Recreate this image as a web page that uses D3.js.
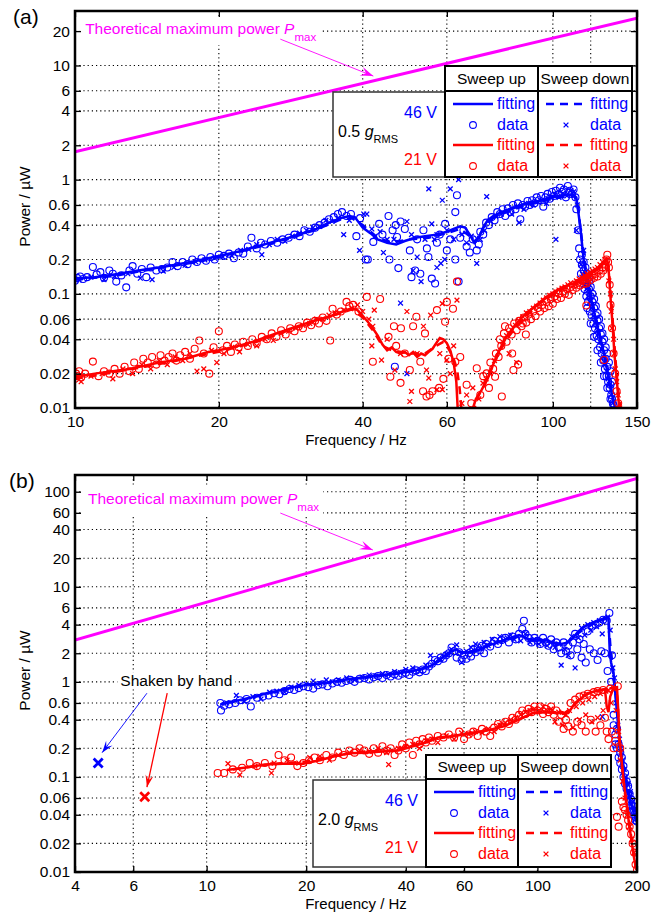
<!DOCTYPE html>
<html>
<head>
<meta charset="utf-8">
<script src="https://cdn.jsdelivr.net/npm/d3@7"></script>
<style>
  body { margin: 0; background: #fff; }
  svg { font-family: "Liberation Sans", Arial, sans-serif; }
</style>
</head>
<body>
<svg id="chart" width="664" height="914"></svg>
<script>
const svg = d3.select("#chart");

const BLUE = "#0000ff";
const RED = "#ff0000";
const MAGENTA = "#ff00ff";

// ---------- PANEL (a) DATA : [frequency Hz, power uW] ----------
const aXTicks = [10, 20, 40, 60, 100, 150];
const aXGrid = [20, 40, 60, 100, 120];
const aYTicks = [0.01, 0.02, 0.04, 0.06, 0.1, 0.2, 0.4, 0.6, 1, 2, 4, 6, 10, 20];
const aPmax = [[10, 1.75], [150, 26]];

const aBlueUpFit = [[10,0.137],[11,0.14],[12,0.147],[13,0.155],[14,0.163],[15,0.17],[16,0.178],[17,0.186],[18,0.195],[19,0.205],[20,0.215],[22,0.235],[24,0.26],[26,0.285],[28,0.31],[30,0.34],[32,0.37],[34,0.42],[36,0.46],[37.5,0.48],[38.5,0.47],[40,0.38],[41.5,0.34],[43,0.3],[45,0.28],[47,0.27],[49,0.29],[51.5,0.31],[54,0.32],[57,0.33],[60,0.35],[62,0.37],[64,0.39],[65.5,0.38],[67,0.33],[68.5,0.28],[70,0.31],[71.5,0.38],[73,0.44],[75,0.48],[78,0.52],[82,0.56],[86,0.6],[90,0.63],[95,0.66],[100,0.7],[105,0.73],[110,0.74],[112,0.7],[114,0.4],[116,0.2],[118,0.13],[121,0.08],[124,0.052],[127,0.034],[130,0.021],[133,0.013],[135,0.01]];
const aBlueDownFit = [[10,0.133],[12,0.143],[14,0.16],[16,0.175],[18,0.19],[20,0.21],[24,0.255],[28,0.305],[32,0.365],[36,0.45],[38,0.46],[40,0.4],[43,0.31],[46,0.28],[50,0.3],[55,0.31],[60,0.34],[64,0.37],[67,0.32],[69,0.29],[72,0.4],[75,0.46],[80,0.52],[86,0.58],[92,0.63],[100,0.68],[106,0.71],[111,0.72],[113,0.55],[115,0.3],[117,0.17],[120,0.1],[123,0.062],[126,0.04],[129,0.025],[132,0.015],[134,0.011]];
const aBlueUpData = [[10,0.13],[10.1,0.138],[10.25,0.142],[10.4,0.135],[10.6,0.14],[10.9,0.172],[11.1,0.148],[11.3,0.155],[11.5,0.138],[11.8,0.16],[12,0.15],[12.2,0.128],[12.5,0.145],[12.8,0.114],[13,0.16],[13.2,0.175],[13.5,0.15],[13.8,0.165],[14.1,0.14],[14.4,0.17],[14.8,0.16],[15.2,0.165],[15.6,0.17],[16,0.19],[16.4,0.175],[16.8,0.19],[17.2,0.182],[17.6,0.2],[18,0.19],[18.4,0.205],[18.8,0.195],[19.2,0.21],[19.6,0.2],[20,0.22],[20.5,0.215],[21,0.225],[21.5,0.205],[22,0.23],[22.5,0.225],[23,0.26],[23.4,0.31],[24,0.25],[24.5,0.28],[25,0.27],[25.7,0.29],[26.5,0.28],[27.2,0.3],[28,0.31],[28.8,0.33],[29.5,0.32],[30.2,0.36],[31,0.35],[31.8,0.38],[32.5,0.4],[33.3,0.42],[34,0.45],[34.8,0.47],[35.5,0.5],[36.2,0.52],[37,0.48],[37.8,0.5],[38.8,0.32],[39.5,0.46],[40.6,0.2],[41,0.2],[42.1,0.285],[43.3,0.41],[44,0.33],[45.3,0.48],[45.5,0.2],[46.2,0.36],[46.9,0.4],[47.2,0.315],[47.5,0.168],[48,0.43],[49,0.37],[50.2,0.24],[50.6,0.14],[51.5,0.16],[52,0.3],[52.8,0.15],[53.6,0.36],[54.5,0.25],[54.9,0.21],[55.8,0.136],[56.7,0.123],[57.2,0.28],[58,0.33],[59.5,0.41],[60,0.24],[61,0.3],[62.5,0.2],[62.5,0.52],[63,0.73],[63.5,0.128],[64,0.31],[65,0.36],[66,0.26],[67,0.23],[68,0.3],[69.3,0.24],[70,0.27],[70.5,0.35],[71.5,0.33],[72.5,0.42],[73.5,0.4],[74.5,0.47],[75.5,0.44],[76.5,0.52],[77.5,0.5],[78.5,0.55],[79.5,0.48],[80.5,0.56],[81.5,0.52],[82.5,0.6],[83.5,0.55],[84.5,0.62],[85.5,0.45],[86.5,0.6],[87.5,0.58],[88.5,0.65],[89.5,0.6],[90.5,0.66],[91.5,0.62],[92.5,0.7],[93.5,0.66],[94.5,0.72],[95.5,0.58],[96.5,0.7],[97.5,0.75],[98.5,0.68],[99.5,0.78],[100.5,0.72],[101.5,0.8],[102.5,0.74],[103.5,0.85],[104.5,0.78],[105.5,0.82],[106.5,0.7],[107.5,0.88],[108.5,0.8],[109.5,0.75],[110.5,0.82],[111.5,0.7],[112,0.55],[113,0.36],[113.5,0.25],[114,0.2],[114.5,0.15],[115,0.18],[115.5,0.13],[116,0.16],[116.5,0.11],[117,0.14],[117.5,0.095],[118,0.12],[118.5,0.085],[119,0.11],[119.5,0.07],[120,0.095],[120.5,0.065],[121,0.085],[121.5,0.055],[122,0.075],[122.5,0.05],[123,0.065],[123.5,0.043],[124,0.058],[124.5,0.04],[125,0.05],[125.5,0.034],[126,0.044],[126.5,0.03],[127,0.038],[127.5,0.026],[128,0.032],[128.5,0.022],[129,0.027],[129.5,0.019],[130,0.023],[130.5,0.017],[131,0.019],[131.5,0.015],[132,0.016],[132.5,0.013],[133,0.012],[133.5,0.011],[134,0.0105],[46.7,0.023],[115,0.22],[116,0.19],[117,0.17],[118,0.15],[119,0.13],[120,0.115],[121,0.1],[122,0.09],[123,0.078],[124,0.068],[125,0.06],[126,0.052],[127,0.045],[128,0.04],[129,0.034],[130,0.03],[131,0.025],[132,0.021],[133,0.017],[118,0.075],[120,0.055],[122,0.042],[124,0.032],[126,0.025],[128,0.019],[130,0.015],[132,0.012]];
const aBlueDownData = [[10.2,0.132],[10.8,0.14],[11.5,0.133],[12.1,0.142],[12.9,0.15],[13.7,0.137],[14.5,0.133],[15.3,0.158],[16.1,0.17],[17,0.178],[17.9,0.19],[18.7,0.198],[19.6,0.205],[20.4,0.21],[21.3,0.215],[22.2,0.24],[23.1,0.245],[24,0.27],[24.6,0.22],[25.5,0.27],[26.5,0.3],[27.5,0.29],[28.5,0.32],[29.5,0.34],[30.5,0.36],[31.5,0.38],[32.5,0.39],[33.5,0.44],[34.5,0.43],[35.5,0.46],[36.5,0.33],[37.5,0.44],[39.4,0.24],[40.2,0.5],[40.8,0.5],[41.8,0.37],[42.5,0.32],[43.5,0.35],[44.2,0.23],[45,0.3],[46.5,0.3],[48,0.083],[49.5,0.43],[49.5,0.02],[50.6,0.33],[51,0.16],[52,0.21],[53,0.128],[54,0.3],[55,0.83],[55.8,0.41],[56.5,0.3],[57.2,0.17],[57.2,0.33],[58.3,0.185],[58.7,0.66],[59.4,0.2],[60,0.36],[61,0.83],[62,0.3],[63.5,1.0],[64.5,0.33],[66,0.28],[67.5,0.32],[69.3,0.185],[70.5,0.3],[72.7,0.71],[72,0.36],[74,0.44],[76,0.48],[78,0.5],[80,0.53],[82,0.5],[84,0.58],[85,0.42],[87,0.55],[89,0.62],[91,0.6],[93,0.64],[95,0.66],[97,0.62],[99,0.7],[101,0.74],[101.5,0.3],[103,0.7],[105,0.76],[107,0.72],[109,0.8],[110.5,0.78],[112,0.36],[112.5,0.6],[116,0.24],[114.5,0.18],[115.5,0.15],[116.5,0.12],[117.5,0.11],[118.5,0.095],[119.5,0.085],[120.5,0.075],[121.5,0.064],[122.5,0.056],[123.5,0.05],[124.5,0.045],[125.5,0.038],[126.5,0.033],[127.5,0.028],[128.5,0.024],[129.5,0.021],[130.5,0.018],[131.5,0.016],[132.5,0.013],[133.5,0.011]];

const aRedUpFit = [[10,0.0188],[11,0.02],[12,0.021],[13,0.022],[14,0.0235],[15,0.025],[16,0.026],[17,0.027],[18,0.029],[19,0.031],[20,0.032],[22,0.035],[24,0.039],[26,0.044],[28,0.049],[30,0.054],[32,0.059],[34,0.063],[36,0.069],[38,0.075],[39,0.072],[40,0.064],[41,0.057],[42,0.05],[43,0.043],[44,0.036],[45,0.032],[46,0.034],[47,0.031],[48,0.03],[49,0.031],[50,0.029],[51,0.031],[52,0.028],[53,0.03],[54,0.029],[55,0.031],[56,0.033],[57,0.037],[58,0.041],[59,0.04],[60,0.037],[61,0.032],[62,0.025],[62.8,0.017],[63.3,0.009],[65,null],[67.5,0.009],[69,0.012],[71,0.0145],[73,0.018],[75,0.024],[77.5,0.033],[80,0.042],[83,0.052],[86,0.062],[90,0.073],[94,0.085],[97,0.094],[101,0.105],[105,0.115],[110,0.123],[114,0.13],[117,0.14],[120,0.15],[123,0.16],[126,0.175],[128.5,0.19],[130,0.2],[131,0.15],[132,0.094],[133.5,0.05],[134.5,0.03],[136,0.018],[138,0.009]];
const aRedDownFit = [[10,0.018],[12,0.0205],[14,0.023],[16,0.0255],[18,0.0285],[20,0.031],[24,0.038],[28,0.048],[32,0.058],[36,0.068],[38,0.073],[40,0.062],[42,0.048],[44,0.035],[46,0.032],[50,0.03],[54,0.03],[57,0.035],[59,0.038],[60,0.035],[61,0.031],[62,0.027],[63,0.022],[63.8,0.015],[64.5,0.009],[66,null],[68,0.009],[70,0.013],[72,0.016],[74,0.021],[77,0.03],[80,0.04],[84,0.052],[88,0.064],[93,0.08],[98,0.093],[104,0.108],[110,0.12],[116,0.135],[122,0.155],[127,0.18],[129.5,0.19],[131,0.16],[132.5,0.09],[134,0.045],[135.5,0.024],[137,0.014],[139,0.009]];
const aRedUpData = [[10,0.018],[10.05,0.02],[10.1,0.019],[10.2,0.021],[10.3,0.0185],[10.5,0.02],[10.9,0.0255],[11.2,0.019],[11.5,0.021],[11.8,0.02],[12.1,0.022],[12.4,0.02],[12.7,0.023],[13,0.021],[13.3,0.025],[13.6,0.022],[13.9,0.027],[14.2,0.025],[14.5,0.028],[14.8,0.024],[15.1,0.029],[15.4,0.026],[15.7,0.028],[16,0.03],[16.3,0.026],[16.6,0.029],[17,0.031],[17.4,0.027],[17.8,0.033],[18.2,0.039],[18.6,0.03],[19.1,0.02],[19.5,0.034],[20,0.047],[20.4,0.032],[20.8,0.035],[21.2,0.031],[21.6,0.036],[22,0.034],[22.5,0.038],[23,0.035],[23.5,0.04],[24,0.037],[24.6,0.042],[25.2,0.04],[25.8,0.045],[26.4,0.042],[27,0.048],[27.6,0.044],[28.2,0.05],[28.8,0.047],[29.4,0.052],[30,0.05],[30.6,0.056],[31.2,0.053],[31.8,0.058],[32.4,0.055],[33,0.062],[33.6,0.058],[34.2,0.039],[34.6,0.074],[35.3,0.066],[36,0.07],[37,0.085],[37.5,0.078],[38.2,0.08],[39.2,0.07],[40.8,0.094],[42,0.0254],[43.5,0.09],[45.3,0.042],[45.7,0.0188],[46.5,0.052],[47,0.035],[48,0.0166],[48.1,0.05],[49,0.03],[50.2,0.0215],[51,0.052],[51.8,0.063],[52.8,0.0254],[53.5,0.014],[54,0.045],[54.4,0.0126],[55.2,0.013],[56,0.014],[57.2,0.072],[57.8,0.015],[59,0.018],[59.5,0.057],[60,0.085],[60.5,0.027],[61.8,0.074],[62.5,0.0254],[63,0.128],[64,0.028],[66,0.016],[67.5,0.011],[69.3,0.0223],[70.5,0.013],[71.5,0.019],[72.7,0.0201],[73.5,0.015],[74,0.025],[75,0.022],[75.7,0.0188],[76,0.03],[77,0.028],[77.5,0.04],[78,0.035],[78.2,0.0126],[79,0.045],[79.4,0.052],[80,0.038],[81,0.05],[82,0.044],[82.2,0.03],[82.7,0.0215],[83,0.055],[84,0.048],[84.6,0.024],[85,0.058],[86,0.052],[86.5,0.055],[87,0.062],[87.8,0.044],[88,0.056],[89,0.066],[90,0.06],[91,0.07],[92,0.064],[93,0.075],[94,0.07],[95,0.08],[96,0.075],[97,0.085],[98,0.078],[99,0.09],[100,0.082],[101,0.095],[102,0.09],[103,0.1],[104,0.092],[105,0.105],[106,0.1],[107,0.11],[108,0.098],[109,0.115],[110,0.108],[111,0.12],[112,0.113],[113,0.125],[114,0.118],[115,0.13],[116,0.122],[117,0.135],[117.5,0.123],[117.5,0.079],[118,0.128],[119,0.14],[120,0.132],[121,0.145],[122,0.138],[123,0.15],[124,0.142],[125,0.16],[126,0.15],[127,0.17],[127.5,0.16],[128,0.0263],[128.5,0.18],[129,0.17],[129.5,0.2],[130,0.22],[130.5,0.19],[131,0.17],[131.5,0.12],[132,0.08],[133,0.05],[134,0.03],[135,0.02],[136,0.014],[137,0.011]];
const aRedDownData = [[10.3,0.017],[10.8,0.019],[11.4,0.02],[12,0.018],[12.6,0.022],[13.2,0.02],[13.8,0.024],[14.4,0.022],[15,0.026],[15.6,0.024],[16.2,0.028],[16.8,0.026],[17.4,0.03],[18,0.021],[18.6,0.022],[19.3,0.032],[19.8,0.025],[20.5,0.03],[21.3,0.034],[22.1,0.031],[23,0.036],[24,0.035],[25,0.04],[26,0.039],[27,0.045],[28,0.047],[29,0.05],[30,0.053],[31,0.055],[32,0.06],[33,0.06],[34,0.065],[35,0.068],[36.5,0.072],[38,0.075],[39,0.08],[40,0.07],[41.2,0.06],[41.8,0.035],[42.3,0.072],[42,0.052],[43.8,0.0263],[45,0.04],[46.7,0.0215],[48,0.03],[49.5,0.07],[50.2,0.0114],[50.6,0.014],[52,0.03],[53.6,0.052],[54.4,0.0215],[55,0.0183],[55.5,0.065],[57.2,0.0145],[58,0.03],[58.7,0.082],[58.7,0.0145],[60,0.0263],[61,0.02],[62,0.035],[63,0.088],[64.5,0.011],[66,0.013],[68,0.015],[70,0.012],[71.4,0.0165],[72.5,0.018],[74,0.02],[75.5,0.026],[77,0.031],[78.5,0.038],[80,0.043],[81,0.03],[82,0.048],[83.5,0.053],[84,0.025],[85,0.058],[86.5,0.063],[88,0.068],[89.5,0.07],[91,0.075],[92.5,0.078],[94,0.083],[95.5,0.088],[97,0.092],[98.5,0.097],[100,0.1],[101.5,0.104],[103,0.108],[104.5,0.112],[106,0.115],[107.5,0.12],[109,0.125],[110.5,0.118],[112,0.13],[113.5,0.135],[115,0.14],[116.5,0.145],[118,0.15],[119.5,0.155],[121,0.16],[122.5,0.165],[124,0.17],[125.5,0.18],[127,0.19],[128.5,0.2],[130,0.18],[131,0.13],[132,0.1],[132.5,0.07],[133,0.05],[134,0.04],[134.5,0.03],[135,0.022],[136,0.017],[137,0.013],[138,0.01]];

// ---------- PANEL (b) DATA ----------
const bXTicks = [4, 6, 10, 20, 40, 60, 100, 200];
const bXGrid = [6, 10, 20, 40, 60, 100];
const bYTicks = [0.01, 0.02, 0.04, 0.06, 0.1, 0.2, 0.4, 0.6, 1, 2, 4, 6, 10, 20, 40, 60, 100];
const bPmax = [[4, 2.76], [200, 138]];
const bHandBlue = [[4.7, 0.14]];
const bHandRed = [[6.5, 0.062]];

const bBlueUpFit = [[11,0.58],[12,0.62],[13,0.66],[14,0.7],[15,0.75],[16,0.79],[17,0.83],[18,0.87],[19,0.9],[20,0.93],[22,0.96],[24,1.0],[27,1.07],[30,1.12],[34,1.18],[38,1.23],[42,1.3],[46,1.4],[49,1.55],[52,1.85],[55,2.1],[57,2.2],[59,2.0],[62,2.05],[65,2.1],[68,2.25],[72,2.45],[76,2.6],[80,2.8],[84,2.95],[88,3.1],[92,2.9],[96,2.75],[100,2.8],[106,2.73],[112,2.6],[118,2.5],[124,2.6],[128,2.9],[133,3.4],[140,3.9],[147,4.2],[153,4.4],[158,4.6],[162,4.8],[164,4.7],[165.5,2.0],[167,1.6],[170,1.2],[173,0.6],[176,0.3],[179,0.17],[182,0.11],[186,0.075],[190,0.058],[195,0.043],[200,0.033]];
const bBlueDownFit = [[11.5,0.6],[13,0.65],[15,0.74],[17,0.82],[20,0.92],[24,0.99],[30,1.1],[36,1.2],[42,1.3],[47,1.45],[51,1.7],[55,2.05],[58,2.1],[61,2.0],[66,2.2],[72,2.5],[80,2.75],[88,3.0],[95,2.8],[104,2.7],[114,2.5],[122,2.55],[130,3.1],[140,3.7],[150,4.2],[160,4.6],[164,4.6],[166,2.5],[169,1.4],[172,0.8],[175,0.4],[178,0.22],[182,0.13],[187,0.08],[193,0.052],[200,0.035]];
const bBlueUpData = [[11,0.6],[11.05,0.5],[11.3,0.56],[11.7,0.58],[12.2,0.6],[12.6,0.64],[13.2,0.66],[13.6,0.55],[14.2,0.68],[14.8,0.7],[15.4,0.72],[16,0.76],[16.6,0.74],[17.2,0.8],[17.8,0.84],[18.4,0.82],[19,0.86],[19.6,0.9],[20.3,0.88],[21,0.85],[21.7,0.92],[22.4,0.94],[23.2,0.9],[24,0.96],[24.8,1.0],[25.6,0.98],[26.4,1.02],[27.2,1.05],[28,1.0],[29,1.08],[30,1.1],[31,1.06],[32,1.12],[33,1.15],[34,1.1],[35,1.18],[36,1.14],[37,1.2],[38,1.16],[39,1.22],[40,1.25],[41,1.18],[42,1.28],[43,1.32],[44,1.26],[45,1.35],[46,1.3],[47,1.45],[48,1.55],[49,1.7],[50,1.65],[51,1.8],[52,1.75],[53,1.9],[54,2.0],[55,2.3],[56,2.1],[57,1.8],[58,2.05],[59,1.7],[60,1.9],[61,1.75],[62,2.0],[63,1.85],[64,2.2],[65,2.05],[66,2.3],[67,2.15],[68,2.4],[69,2.0],[70,2.5],[72,2.35],[74,2.7],[76,2.5],[78,2.75],[80,2.9],[82,2.6],[84,3.0],[86,2.8],[88,3.2],[90,3.6],[91,4.4],[92,3.2],[94,2.9],[96,2.6],[98,2.9],[100,2.7],[102,2.5],[104,2.9],[106,2.6],[108,2.4],[110,2.8],[112,2.2],[114,2.6],[116,2.3],[118,2.0],[120,2.6],[122,2.1],[124,2.4],[126,1.9],[128,2.6],[130,3.2],[132,2.2],[134,2.8],[136,1.8],[138,2.5],[140,1.6],[142,3.4],[144,2.2],[146,3.8],[148,2.0],[150,4.0],[152,1.7],[154,4.2],[156,2.1],[158,4.5],[160,2.0],[162,4.4],[163,1.3],[165,5.3],[167,1.0],[168,1.9],[170,0.45],[172,0.28],[174,0.32],[176,0.22],[178,0.18],[180,0.16],[182,0.13],[184,0.11],[186,0.09],[188,0.08],[190,0.066],[192,0.058],[194,0.05],[196,0.044],[198,0.038],[200,0.034],[170,0.35],[172,0.22],[174,0.2],[176,0.16],[178,0.14],[180,0.12],[182,0.1],[184,0.085],[186,0.075],[188,0.065],[190,0.055],[192,0.05],[194,0.044],[196,0.04],[198,0.035]];
const bBlueDownData = [[11.5,0.6],[12.3,0.72],[13,0.62],[13.8,0.7],[14.6,0.66],[15.5,0.78],[16.3,0.8],[17.2,0.78],[18,0.88],[19,0.92],[20,0.95],[21,1.02],[22,0.96],[23,1.05],[24,1.0],[25,1.05],[26.5,1.1],[28,1.05],[29.5,1.12],[31,1.18],[32.5,1.15],[34,1.22],[35.5,1.2],[37,1.28],[38.5,1.25],[40,1.35],[42,1.4],[44,1.3],[46,1.5],[47.5,1.9],[49,1.6],[51,1.7],[53,1.95],[55,2.2],[57,2.45],[59,1.6],[61,2.1],[63,2.3],[65,2.5],[67,2.25],[69,2.6],[71,2.4],[73,2.8],[75,2.6],[77,3.0],[79,2.7],[81,2.9],[83,3.1],[85,2.8],[87,3.0],[89,2.7],[92,3.2],[95,2.6],[98,2.8],[101,2.5],[104,2.7],[107,2.4],[110,2.6],[113,2.3],[116,2.5],[118,1.5],[121,2.2],[124,1.9],[127,3.0],[130,1.4],[133,2.9],[136,3.7],[139,3.1],[142,4.0],[145,3.5],[148,4.2],[151,3.8],[154,4.4],[157,0.43],[157,3.2],[160,4.6],[163,4.8],[166,3.5],[169,1.4],[171,1.1],[173,0.6],[175,0.35],[177,0.25],[179,0.2],[181,0.15],[183,0.12],[185,0.1],[188,0.085],[191,0.07],[194,0.055],[197,0.045],[200,0.036]];

const bRedUpFit = [[11.5,0.118],[13,0.125],[15,0.135],[17,0.138],[19.6,0.138],[22,0.15],[24,0.163],[27,0.177],[30,0.18],[34,0.185],[38,0.19],[42,0.21],[46,0.23],[50,0.26],[56,0.27],[63,0.29],[71,0.31],[79,0.34],[88,0.4],[97,0.47],[106,0.48],[116,0.47],[124,0.47],[130,0.6],[142,0.76],[155,0.82],[160,0.84],[162,0.55],[164,0.48],[166,0.7],[170,0.87],[174,0.88],[175.5,0.5],[177,0.26],[180,0.14],[183,0.08],[186,0.053],[189,0.033],[193,0.02],[196,0.014],[199,0.0105]];
const bRedDownFit = [[12,0.12],[14,0.13],[17,0.14],[20,0.145],[25,0.17],[30,0.185],[36,0.19],[42,0.215],[48,0.245],[55,0.27],[62,0.285],[70,0.31],[80,0.35],[90,0.42],[100,0.48],[110,0.48],[120,0.46],[128,0.55],[138,0.72],[150,0.8],[160,0.83],[168,0.86],[173,0.87],[175,0.6],[176.5,0.3],[179,0.16],[182,0.09],[185,0.057],[189,0.035],[193,0.021],[197,0.013],[200,0.01]];
const bRedUpData = [[10.8,0.11],[11.3,0.11],[12,0.12],[12.8,0.125],[13.5,0.14],[14.2,0.13],[15,0.14],[15.8,0.13],[16.5,0.17],[17.2,0.15],[18,0.16],[18.8,0.13],[19.6,0.14],[20.4,0.15],[21.2,0.16],[22,0.15],[23,0.17],[24,0.16],[25,0.18],[26,0.17],[27,0.19],[28,0.18],[29,0.2],[30,0.19],[31,0.175],[32,0.2],[33,0.18],[34,0.21],[35,0.19],[36,0.2],[37,0.17],[38,0.19],[39,0.22],[40,0.2],[41,0.23],[42,0.17],[43,0.24],[44,0.22],[45,0.25],[46,0.23],[47,0.26],[48,0.24],[50,0.27],[52,0.26],[54,0.28],[56,0.26],[58,0.3],[60,0.25],[62,0.28],[64,0.3],[66,0.27],[68,0.32],[70,0.3],[72,0.27],[74,0.33],[76,0.36],[78,0.34],[80,0.38],[82,0.36],[84,0.42],[86,0.4],[88,0.45],[90,0.5],[92,0.46],[94,0.52],[96,0.48],[98,0.55],[100,0.5],[102,0.55],[104,0.46],[106,0.52],[108,0.48],[110,0.55],[112,0.45],[114,0.5],[116,0.38],[118,0.45],[120,0.32],[122,0.4],[124,0.34],[126,0.6],[128,0.3],[130,0.65],[132,0.38],[134,0.7],[136,0.35],[138,0.72],[140,0.3],[142,0.75],[145,0.4],[148,0.78],[150,0.3],[152,0.8],[155,0.35],[158,0.82],[160,0.42],[162,0.3],[164,0.25],[166,0.85],[168,0.3],[170,0.2],[172,0.24],[175,0.9],[178,0.2],[174,0.038],[176,0.03],[180,0.055],[182,0.048],[184,0.045],[186,0.04],[188,0.035],[190,0.03],[192,0.025],[194,0.02],[196,0.016],[198,0.012],[200,0.0105]];
const bRedDownData = [[11.6,0.138],[12.6,0.105],[14,0.13],[15.7,0.11],[16,0.14],[17.5,0.15],[19,0.14],[20.5,0.16],[22,0.165],[23.5,0.15],[25,0.17],[27,0.18],[29,0.19],[31,0.185],[33,0.2],[35.5,0.135],[35,0.18],[38,0.2],[40,0.21],[42,0.22],[44,0.2],[46,0.24],[48,0.25],[50,0.23],[53,0.27],[56,0.25],[59,0.29],[62,0.28],[65,0.3],[68,0.29],[71,0.32],[74,0.3],[77,0.35],[80,0.37],[83,0.4],[86,0.42],[89,0.45],[92,0.48],[95,0.5],[98,0.52],[101,0.5],[104,0.55],[107,0.5],[110,0.52],[113,0.38],[116,0.48],[119,0.35],[122,0.45],[125,0.5],[128,0.33],[131,0.55],[134,0.4],[137,0.6],[140,0.45],[143,0.65],[146,0.38],[149,0.7],[152,0.42],[155,0.75],[158,0.5],[161,0.8],[164,0.82],[167,0.6],[170,0.85],[173,0.5],[176,0.3],[178,0.15],[181,0.09],[184,0.06],[187,0.04],[190,0.03],[193,0.022],[196,0.016],[199,0.012]];

// ---------- DRAWING HELPERS ----------
function xPath(cx, cy, s) {
  return `M${cx - s},${cy - s}L${cx + s},${cy + s}M${cx - s},${cy + s}L${cx + s},${cy - s}`;
}

// matlab-ish arrow head: tip at (x2,y2)
function arrow(g, x1, y1, x2, y2, color, width, len, wid) {
  g.append("line").attr("x1", x1).attr("y1", y1).attr("x2", x2).attr("y2", y2)
    .attr("stroke", color).attr("stroke-width", width);
  let dx = x2 - x1, dy = y2 - y1;
  let l = Math.sqrt(dx * dx + dy * dy);
  let ux = dx / l, uy = dy / l;
  let nx = -uy, ny = ux;
  let bx = x2 - ux * len, by = y2 - uy * len;
  let mx = x2 - ux * len * 0.6, my = y2 - uy * len * 0.6;
  g.append("path")
    .attr("d", `M${x2},${y2}L${bx + nx * wid / 2},${by + ny * wid / 2}L${mx},${my}L${bx - nx * wid / 2},${by - ny * wid / 2}Z`)
    .attr("fill", color);
}

function drawPanel(p) {
  const x = d3.scaleLog().domain(p.xDomain).range([p.left, p.right]);
  const y = d3.scaleLog().domain(p.yDomain).range([p.bottom, p.top]);
  const g = svg.append("g");

  g.append("clipPath").attr("id", "clip-" + p.name)
    .append("rect").attr("x", p.left).attr("y", p.top)
    .attr("width", p.right - p.left).attr("height", p.bottom - p.top);

  // dotted grid
  const grid = g.append("g").attr("stroke", "#000").attr("stroke-width", 1.1).attr("stroke-dasharray", "1.2,3");
  grid.selectAll(".gx").data(p.xGrid).join("line")
    .attr("x1", d => x(d)).attr("x2", d => x(d)).attr("y1", p.top).attr("y2", p.bottom);
  grid.selectAll(".gy").data(p.yTicks.filter(d => d > p.yDomain[0])).join("line")
    .attr("y1", d => y(d)).attr("y2", d => y(d)).attr("x1", p.left).attr("x2", p.right);

  const plot = g.append("g").attr("clip-path", `url(#clip-${p.name})`);

  // white box behind the Pmax text
  const note = plot.append("g");

  // Pmax line
  const line = d3.line().defined(d => d[1] != null).x(d => x(d[0])).y(d => y(d[1]));
  plot.append("path").datum(p.pmax).attr("d", line)
    .attr("fill", "none").attr("stroke", MAGENTA).attr("stroke-width", 3);

  // data: blue first, red on top
  [[p.blueUp, p.blueDown, p.blueUpFit, p.blueDownFit, BLUE], [p.redUp, p.redDown, p.redUpFit, p.redDownFit, RED]].forEach(function(s) {
    let col = s[4];
    plot.append("g").selectAll("circle").data(s[0]).join("circle")
      .attr("cx", d => x(d[0])).attr("cy", d => y(d[1])).attr("r", 3.5)
      .attr("fill", "none").attr("stroke", col).attr("stroke-width", 1.1);
    plot.append("g").selectAll("path").data(s[1]).join("path")
      .attr("d", d => xPath(x(d[0]), y(d[1]), 2.4))
      .attr("stroke", col).attr("stroke-width", 1.3);
    plot.append("path").datum(s[3]).attr("d", line)
      .attr("fill", "none").attr("stroke", col).attr("stroke-width", 2.5).attr("stroke-dasharray", "8,6");
    plot.append("path").datum(s[2]).attr("d", line)
      .attr("fill", "none").attr("stroke", col).attr("stroke-width", 2.5);
  });

  // Pmax annotation text
  const t = g.append("text").attr("x", x(p.noteAt[0])).attr("y", y(p.noteAt[1]))
    .attr("fill", MAGENTA).attr("font-size", 15.5);
  t.append("tspan").text("Theoretical maximum power ");
  t.append("tspan").attr("font-style", "italic").text("P");
  t.append("tspan").attr("font-size", 11.5).attr("dy", 7).text("max");
  const bb = t.node().getBBox();
  note.append("rect").attr("x", bb.x - 6).attr("y", bb.y - 4)
    .attr("width", bb.width + 10).attr("height", bb.height + 6).attr("fill", "#fff");
  arrow(g, x(p.arrowFrom[0]), y(p.arrowFrom[1]), x(p.arrowTo[0]), y(p.arrowTo[1]), MAGENTA, 0.9, 13, 9);

  // axes with inward ticks
  const fmt = d => String(d);
  const ax = g.append("g").attr("transform", `translate(0,${p.bottom})`)
    .call(d3.axisBottom(x).tickValues(p.xTicks).tickFormat(fmt).tickSizeInner(-6).tickSizeOuter(0).tickPadding(8));
  const axT = g.append("g").attr("transform", `translate(0,${p.top})`)
    .call(d3.axisTop(x).tickValues(p.xTicks).tickFormat("").tickSizeInner(-6).tickSizeOuter(0));
  const ay = g.append("g").attr("transform", `translate(${p.left},0)`)
    .call(d3.axisLeft(y).tickValues(p.yTicks).tickFormat(fmt).tickSizeInner(-6).tickSizeOuter(0).tickPadding(5));
  const ayR = g.append("g").attr("transform", `translate(${p.right},0)`)
    .call(d3.axisRight(y).tickValues(p.yTicks).tickFormat("").tickSizeInner(-6).tickSizeOuter(0));
  [ax, axT, ay, ayR].forEach(function(a) {
    a.select(".domain").remove();
    a.selectAll("line").attr("stroke", "#000").attr("stroke-width", 1.3);
    a.selectAll("text").attr("font-size", 15.5).attr("fill", "#000")
      .attr("font-family", "'Liberation Sans', Arial, sans-serif");
  });

  g.append("rect").attr("x", p.left).attr("y", p.top)
    .attr("width", p.right - p.left).attr("height", p.bottom - p.top)
    .attr("fill", "none").attr("stroke", "#000").attr("stroke-width", 2.5);

  g.append("text").attr("x", (p.left + p.right) / 2).attr("y", p.bottom + 37)
    .attr("text-anchor", "middle").attr("font-size", 15).text("Frequency / Hz");
  g.append("text").attr("transform", `translate(30,${(p.top + p.bottom) / 2 - 3}) rotate(-90)`)
    .attr("text-anchor", "middle").attr("font-size", 15.5).text("Power / \u00B5W");
  g.append("text").attr("x", p.labelX).attr("y", p.top + 13)
    .attr("font-size", 21).text(p.label);

  return { x: x, y: y, g: g };
}

function drawLegend(L) {
  const g = svg.append("g");
  // voltage / acceleration box
  g.append("rect").attr("x", L.boxX).attr("y", L.bodyY + 1).attr("width", L.colX - L.boxX).attr("height", L.bodyH - 1)
    .attr("fill", "#fff").attr("stroke", "#333").attr("stroke-width", 1.5);
  g.append("text").attr("x", L.colX - 8).attr("y", L.bodyY + 27).attr("text-anchor", "end")
    .attr("fill", BLUE).attr("font-size", 16).text("46 V");
  g.append("text").attr("x", L.colX - 8).attr("y", L.bodyY + 74).attr("text-anchor", "end")
    .attr("fill", RED).attr("font-size", 16).text("21 V");
  const gt = g.append("text").attr("x", L.boxX + 5).attr("y", L.bodyY + 46).attr("font-size", 16);
  gt.append("tspan").text(L.accel + " ");
  gt.append("tspan").attr("font-style", "italic").text("g");
  gt.append("tspan").attr("font-size", 11).attr("dy", 6).text("RMS");

  const cols = [{ x: L.colX, w: L.w1, title: "Sweep up", dash: null, mark: "o" },
                { x: L.colX + L.w1, w: L.w2, title: "Sweep down", dash: "8,6", mark: "x" }];
  const rows = [{ c: BLUE, kind: "line", dy: 13 }, { c: BLUE, kind: "mark", dy: 34 },
                { c: RED, kind: "line", dy: 54 }, { c: RED, kind: "mark", dy: 75 }];
  cols.forEach(function(c) {
    g.append("rect").attr("x", c.x).attr("y", L.headY).attr("width", c.w).attr("height", L.bodyY - L.headY)
      .attr("fill", "#fff").attr("stroke", "#000").attr("stroke-width", 2);
    g.append("text").attr("x", c.x + c.w / 2).attr("y", L.bodyY - 7).attr("text-anchor", "middle")
      .attr("font-size", 15.5).text(c.title);
    g.append("rect").attr("x", c.x).attr("y", L.bodyY).attr("width", c.w).attr("height", L.bodyH)
      .attr("fill", "#fff").attr("stroke", "#000").attr("stroke-width", 2);
    rows.forEach(function(r) {
      let cy = L.bodyY + r.dy;
      if (r.kind === "line") {
        g.append("line").attr("x1", c.x + 8).attr("x2", c.x + 48).attr("y1", cy).attr("y2", cy)
          .attr("stroke", r.c).attr("stroke-width", 2.5).attr("stroke-dasharray", c.dash);
      } else if (c.mark === "o") {
        g.append("circle").attr("cx", c.x + 28).attr("cy", cy).attr("r", 3.4)
          .attr("fill", "none").attr("stroke", r.c).attr("stroke-width", 1.1);
      } else {
        g.append("path").attr("d", xPath(c.x + 28, cy, 2.4)).attr("stroke", r.c).attr("stroke-width", 1.3);
      }
      g.append("text").attr("x", c.x + 52).attr("y", cy + 5).attr("fill", r.c)
        .attr("font-size", 16).text(r.kind === "line" ? "fitting" : "data");
    });
  });
}

// ---------- PANEL (a) ----------
const pa = drawPanel({
  name: "a", label: "(a)", labelX: 13,
  left: 75, right: 637, top: 11, bottom: 408,
  xDomain: [10, 150], yDomain: [0.01, 30],
  xTicks: aXTicks, xGrid: aXGrid, yTicks: aYTicks,
  pmax: aPmax,
  blueUp: aBlueUpData, blueDown: aBlueDownData, blueUpFit: aBlueUpFit, blueDownFit: aBlueDownFit,
  redUp: aRedUpData, redDown: aRedDownData, redUpFit: aRedUpFit, redDownFit: aRedDownFit,
  noteAt: [10.5, 18.8], arrowFrom: [26.9, 17], arrowTo: [42.1, 8.07]
});
drawLegend({ boxX: 333, colX: 445, w1: 93, w2: 94, headY: 66, bodyY: 91, bodyH: 86, accel: "0.5" });

// ---------- PANEL (b) ----------
const pb = drawPanel({
  name: "b", label: "(b)", labelX: 9,
  left: 75, right: 637, top: 475, bottom: 872,
  xDomain: [4, 200], yDomain: [0.01, 150],
  xTicks: bXTicks, xGrid: bXGrid, yTicks: bYTicks,
  pmax: bPmax,
  blueUp: bBlueUpData, blueDown: bBlueDownData, blueUpFit: bBlueUpFit, blueDownFit: bBlueDownFit,
  redUp: bRedUpData, redDown: bRedDownData, redUpFit: bRedUpFit, redDownFit: bRedDownFit,
  noteAt: [4.38, 74.3], arrowFrom: [16.7, 59.7], arrowTo: [31.8, 24.4]
});
drawLegend({ boxX: 313, colX: 426, w1: 92, w2: 93, headY: 755, bodyY: 779, bodyH: 88, accel: "2.0" });

// shaken by hand
const hand = pb.g.append("g");
const ht = hand.append("text").attr("x", pb.x(8.1)).attr("y", pb.y(0.9)).attr("text-anchor", "middle")
  .attr("font-size", 15.5).text("Shaken by hand");
const hb = ht.node().getBBox();
hand.insert("rect", "text").attr("x", hb.x - 3).attr("y", hb.y).attr("width", hb.width + 6).attr("height", hb.height)
  .attr("fill", "#fff");
arrow(hand, pb.x(6.6), pb.y(0.76), pb.x(4.83), pb.y(0.18), BLUE, 0.9, 12, 8);
arrow(hand, pb.x(7.6), pb.y(0.76), pb.x(6.6), pb.y(0.078), RED, 1.3, 12, 8);
hand.selectAll(".hb").data(bHandBlue).join("path")
  .attr("d", d => xPath(pb.x(d[0]), pb.y(d[1]), 4.5)).attr("stroke", BLUE).attr("stroke-width", 2.8);
hand.selectAll(".hr").data(bHandRed).join("path")
  .attr("d", d => xPath(pb.x(d[0]), pb.y(d[1]), 4.5)).attr("stroke", RED).attr("stroke-width", 2.8);
</script>
</body>
</html>
